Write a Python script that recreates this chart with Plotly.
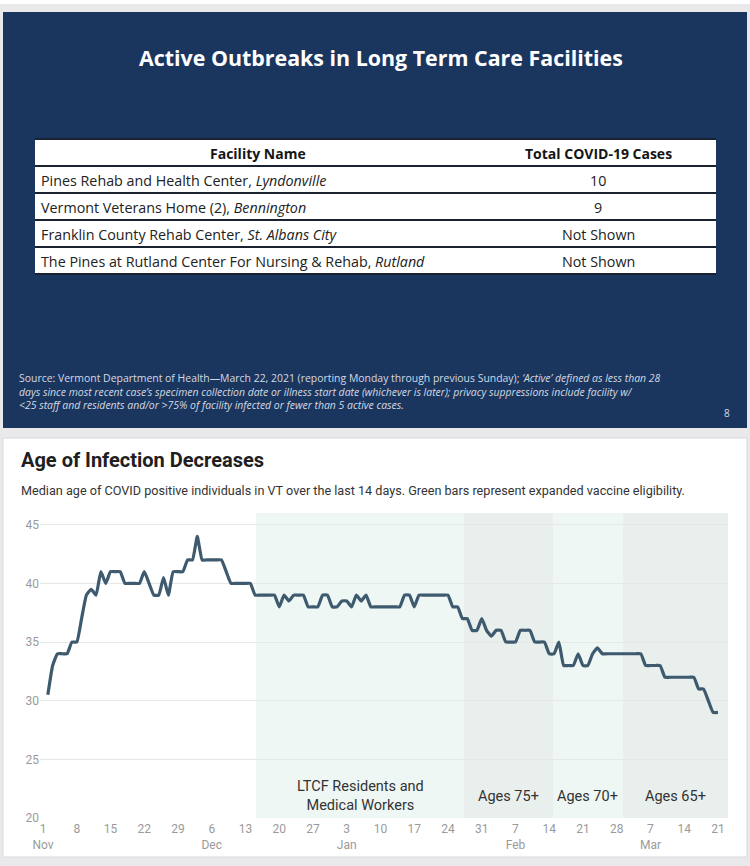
import plotly.graph_objects as go
import pandas as pd

W, H = 750, 866

def fx(p):
    return p / W

def fy(p):
    return 1 - p / H

# ---------------- DATA ----------------
table_title = "Active Outbreaks in Long Term Care Facilities"
table_headers = ["Facility Name", "Total COVID-19 Cases"]
facility_names = [
    "Pines Rehab and Health Center, <i>Lyndonville</i>",
    "Vermont Veterans Home (2), <i>Bennington</i>",
    "Franklin County Rehab Center, <i>St. Albans City</i>",
    "The Pines at Rutland Center For Nursing & Rehab, <i>Rutland</i>",
]
facility_cases = ["10", "9", "Not Shown", "Not Shown"]

chart_title = "Age of Infection Decreases"
chart_subtitle = ("Median age of COVID positive individuals in VT over the last 14 days. "
                  "Green bars represent expanded vaccine eligibility.")

series_start = "2020-11-02"
median_age = [
    30.5, 33, 34, 34, 34, 35, 35, 37, 39, 39.5,
    39, 41, 40, 41, 41, 41, 40, 40, 40, 40,
    41, 40, 39, 39, 40.5, 39, 41, 41, 41, 42,
    42, 44, 42, 42, 42, 42, 42, 41, 40, 40,
    40, 40, 40, 39, 39, 39, 39, 39, 38, 39,
    38.5, 39, 39, 39, 38, 38, 38, 39, 39, 38,
    38, 38.5, 38.5, 38, 39, 38.5, 39, 38, 38, 38,
    38, 38, 38, 38, 39, 39, 38, 39, 39, 39,
    39, 39, 39, 39, 38, 38, 37, 37, 36, 36,
    37, 36, 35.5, 36, 36, 35, 35, 35, 36, 36,
    36, 35, 35, 35, 34, 34, 35, 33, 33, 33,
    34, 33, 33, 34, 34.5, 34, 34, 34, 34, 34,
    34, 34, 34, 34, 33, 33, 33, 33, 32, 32,
    32, 32, 32, 32, 32, 31, 31, 30, 29, 29,
]

phase_labels = ["LTCF Residents and<br>Medical Workers", "Ages 75+", "Ages 70+", "Ages 65+"]
phase_bounds = ["2020-12-15 05:00", "2021-01-27 08:00", "2021-02-14 19:00",
                "2021-03-01 07:00", "2021-03-23 02:00"]
phase_colors = ["#eef7f4", "#e9efed", "#eef7f4", "#e9efed"]

tick_start, tick_end = "2020-11-01", "2021-03-21"
y_ticks = [20, 25, 30, 35, 40, 45]

# ---------------- FIGURE ----------------
fig = go.Figure()

dates = pd.date_range(series_start, periods=len(median_age), freq="D")
fig.add_trace(go.Scatter(
    x=dates, y=median_age, mode="lines",
    line=dict(color="#3e5a6e", width=3.2, shape="spline", smoothing=0.4),
    hoverinfo="skip",
))

shapes = []
annotations = []

# background panels
shapes.append(dict(type="rect", xref="paper", yref="paper", x0=0, x1=1, y0=fy(0), y1=fy(4),
                   fillcolor="white", line=dict(width=0), layer="below"))
shapes.append(dict(type="rect", xref="paper", yref="paper", x0=fx(3), x1=fx(747), y0=fy(12), y1=fy(428),
                   fillcolor="#1b365e", line=dict(width=0), layer="below"))
shapes.append(dict(type="rect", xref="paper", yref="paper", x0=fx(3), x1=fx(747), y0=fy(438), y1=fy(857),
                   fillcolor="white", line=dict(color="#d9d9dd", width=1), layer="below"))

# table
t_left, t_right, t_top, row_h = 35, 716, 139, 27
col_split = 480
n_rows = len(facility_names) + 1
shapes.append(dict(type="rect", xref="paper", yref="paper", x0=fx(t_left), x1=fx(t_right),
                   y0=fy(t_top), y1=fy(t_top + row_h * n_rows),
                   fillcolor="white", line=dict(width=0), layer="below"))
for k in range(n_rows + 1):
    yy = t_top + row_h * k
    shapes.append(dict(type="line", xref="paper", yref="paper", x0=fx(t_left), x1=fx(t_right),
                       y0=fy(yy), y1=fy(yy), line=dict(color="#1a2130", width=2), layer="above"))

tfont = dict(family="Open Sans", size=14.3, color="#222222")
hfont = dict(family="Open Sans", size=14, color="#151515")
annotations.append(dict(text="<b>" + table_headers[0] + "</b>", xref="paper", yref="paper",
                        x=fx((t_left + col_split) / 2), y=fy(t_top + row_h / 2 + 1), showarrow=False,
                        xanchor="center", yanchor="middle", font=hfont))
annotations.append(dict(text="<b>" + table_headers[1] + "</b>", xref="paper", yref="paper",
                        x=fx((col_split + t_right) / 2), y=fy(t_top + row_h / 2 + 1), showarrow=False,
                        xanchor="center", yanchor="middle", font=hfont))
for r, (name, case) in enumerate(zip(facility_names, facility_cases)):
    yc = t_top + row_h * (r + 1) + row_h / 2 + 1
    annotations.append(dict(text=name, xref="paper", yref="paper", x=fx(t_left + 4), y=fy(yc),
                            showarrow=False, xanchor="left", yanchor="middle", font=tfont))
    annotations.append(dict(text=case, xref="paper", yref="paper", x=fx((col_split + t_right) / 2),
                            y=fy(yc), showarrow=False, xanchor="center", yanchor="middle", font=tfont))

# phase shading
for i in range(len(phase_labels)):
    shapes.append(dict(type="rect", xref="x", yref="y domain", x0=phase_bounds[i], x1=phase_bounds[i + 1],
                       y0=0, y1=1, fillcolor=phase_colors[i], line=dict(width=0), layer="below"))

annotations.append(dict(text="<b>" + table_title + "</b>", xref="paper", yref="paper",
                        x=fx(381), y=fy(57), showarrow=False, xanchor="center", yanchor="middle",
                        font=dict(family="Open Sans", size=21.4, color="white")))
foot = ("Source: Vermont Department of Health\u2014March 22, 2021 (reporting Monday through previous Sunday); "
        "<i>\u2018Active\u2019 defined as less than 28</i><br>"
        "<i>days since most recent case\u2019s specimen collection date or illness start date (whichever is later); "
        "privacy suppressions include facility w/</i><br>"
        "<i>&lt;25 staff and residents and/or &gt;75% of facility infected or fewer than 5 active cases.</i>")
annotations.append(dict(text=foot, xref="paper", yref="paper", x=fx(17), y=fy(369),
                        showarrow=False, xanchor="left", yanchor="top", align="left",
                        font=dict(family="Open Sans", size=10.45, color="#d3d9e3")))
annotations.append(dict(text="8", xref="paper", yref="paper", x=fx(727), y=fy(413),
                        showarrow=False, xanchor="center", yanchor="middle",
                        font=dict(family="Open Sans", size=10, color="#d3d9e3")))
annotations.append(dict(text="<b>" + chart_title + "</b>", xref="paper", yref="paper",
                        x=fx(19), y=fy(460), showarrow=False, xanchor="left", yanchor="middle",
                        font=dict(family="Roboto", size=20, color="#202020")))
annotations.append(dict(text=chart_subtitle, xref="paper", yref="paper",
                        x=fx(19), y=fy(490), showarrow=False, xanchor="left", yanchor="middle",
                        font=dict(family="Roboto", size=12.65, color="#333333")))
for i, lab in enumerate(phase_labels):
    a = pd.Timestamp(phase_bounds[i])
    b = pd.Timestamp(phase_bounds[i + 1])
    mid = a + (b - a) / 2
    annotations.append(dict(text=lab, xref="x", yref="y", x=mid, y=21.85, showarrow=False,
                            xanchor="center", yanchor="middle",
                            font=dict(family="Roboto", size=14.5, color="#333333")))

# ticks
tick_dates = pd.date_range(tick_start, tick_end, freq="7D")
tick_text = []
prev_month = None
for d in tick_dates:
    if d.month != prev_month:
        tick_text.append(f"{d.day}<br>{d.strftime('%b')}")
        prev_month = d.month
    else:
        tick_text.append(str(d.day))

fig.update_layout(
    width=W, height=H,
    margin=dict(l=0, r=0, t=0, b=0, pad=0, autoexpand=False),
    paper_bgcolor="#e9e9ec",
    plot_bgcolor="rgba(0,0,0,0)",
    showlegend=False,
    hovermode=False,
    shapes=shapes,
    annotations=annotations,
    xaxis=dict(domain=[fx(40), fx(728)], type="date", automargin=False,
               range=["2020-10-31 09:00", "2021-03-23 02:00"],
               tickvals=list(tick_dates), ticktext=tick_text, ticklabelstandoff=2,
               showgrid=False, zeroline=False, showline=False, ticks="",
               tickfont=dict(family="Roboto", size=12, color="#9a9a9a")),
    yaxis=dict(domain=[fy(818), fy(513)], range=[20, 46], tickvals=y_ticks, automargin=False,
               showgrid=True, gridcolor="#e6e8e8", gridwidth=1, zeroline=False, showline=False,
               ticks="", tickfont=dict(family="Roboto", size=12, color="#9a9a9a")),
)

fig.write_html(
    "out.html",
    config={"displayModeBar": False},
    post_script=(
        "document.documentElement.style.margin='0';"
        "document.body.style.margin='0';"
        "document.body.style.overflow='hidden';"
        "var d=document.getElementById('{plot_id}');"
        "d.style.position='fixed';d.style.left='0px';d.style.top='0px';"
    ),
)
